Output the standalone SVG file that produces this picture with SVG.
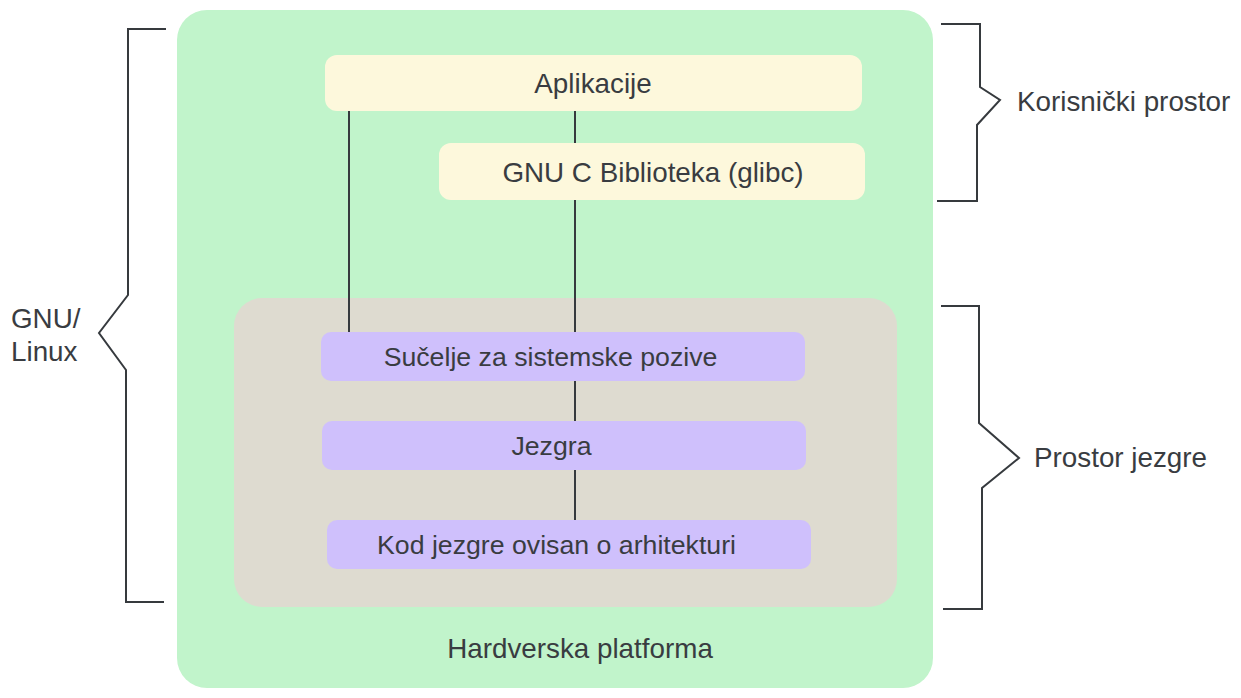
<svg xmlns="http://www.w3.org/2000/svg" width="1241" height="698" viewBox="0 0 1241 698">
<style>
text{font-family:"Liberation Sans",Arial,sans-serif;font-size:27.8px;fill:#393c41}
.c{text-anchor:middle}
.s{font-size:26.7px}
.ln{stroke:#363a3e;stroke-width:2;fill:none}
.y{fill:#fdf8dc}
.p{fill:#cfc0fc}
</style>
<rect width="1241" height="698" fill="#ffffff"/>
<g id="hardware">
<rect x="177" y="10" width="756" height="678" rx="30" fill="#c1f4cb"/>
<text class="c" x="580" y="658">Hardverska platforma</text>
</g>
<g id="kernel-space-area">
<rect x="234" y="298" width="663" height="309" rx="28" fill="#dedbd0"/>
</g>
<g id="connectors">
<line class="ln" x1="349" y1="111" x2="349" y2="332"/>
<line class="ln" x1="575" y1="111" x2="575" y2="143"/>
<line class="ln" x1="575" y1="200" x2="575" y2="332"/>
<line class="ln" x1="575" y1="381" x2="575" y2="421"/>
<line class="ln" x1="575" y1="470" x2="575" y2="520"/>
</g>
<g id="aplikacije">
<rect class="y" x="325" y="55" width="537" height="56" rx="12"/>
<text class="c" x="593" y="93">Aplikacije</text>
</g>
<g id="glibc">
<rect class="y" x="439" y="143" width="426" height="57" rx="12"/>
<text class="c" x="653" y="182">GNU C Biblioteka (glibc)</text>
</g>
<g id="sucelje">
<rect class="p" x="321" y="332" width="484" height="49" rx="10"/>
<text class="c s" x="550.5" y="366">Sučelje za sistemske pozive</text>
</g>
<g id="jezgra">
<rect class="p" x="322" y="421" width="484" height="49" rx="10"/>
<text class="c s" x="551.5" y="455">Jezgra</text>
</g>
<g id="kod">
<rect class="p" x="327" y="520" width="484" height="49" rx="10"/>
<text class="c s" x="556.5" y="554">Kod jezgre ovisan o arhitekturi</text>
</g>
<g id="bracket-gnu-linux">
<polyline class="ln" points="166,29 128,29 128,295 99,333 126,370 126,602 164,602"/>
<text x="11" y="328">GNU/</text>
<text x="11" y="361">Linux</text>
</g>
<g id="bracket-user">
<polyline class="ln" points="941,24 980,24 980,87 1000,100 977,125 977,201 937,201"/>
<text x="1017" y="111">Korisnički prostor</text>
</g>
<g id="bracket-kernel">
<polyline class="ln" points="941,306 979,306 979,423 1019,458 982,488 982,609 943,609"/>
<text x="1034" y="467">Prostor jezgre</text>
</g>
</svg>
